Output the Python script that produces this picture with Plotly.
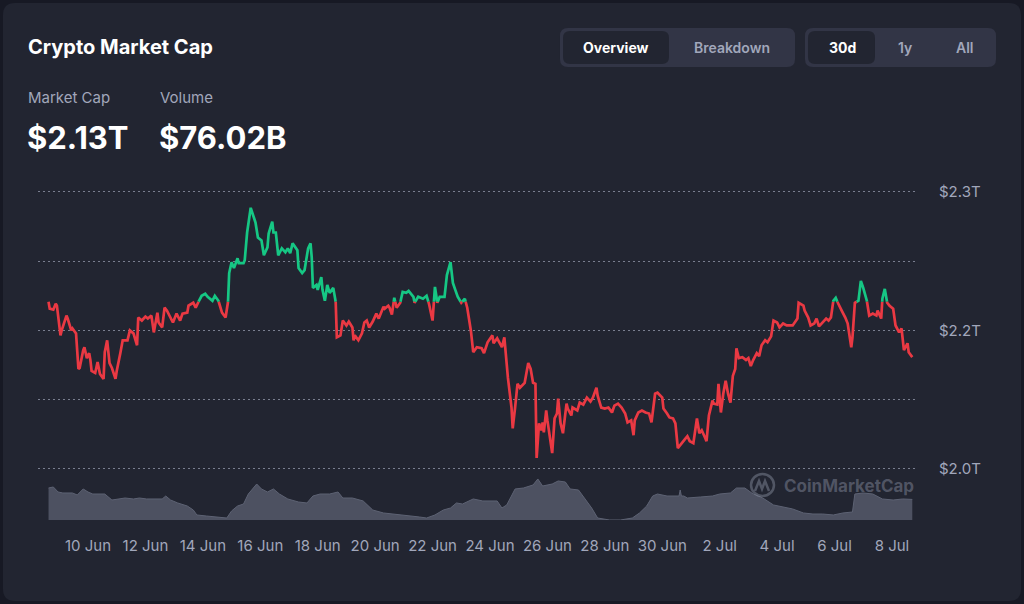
import plotly.graph_objects as go
import pandas as pd

# ---------------- data ----------------
# hours since 10 Jun 00:00, total crypto market cap in trillions USD
hours = [-33, -32, -29, -27, -26, -23, -22, -18, -17, -14, -13, -10, -8, -7, -4, -3, -1, 1, 2, 3,
         6, 8, 10, 13, 14, 16, 18, 20, 23, 24, 27, 29, 33, 35, 38, 41, 42, 45, 48, 50,
         53, 55, 58, 59, 62, 64, 66, 69, 71, 74, 77, 79, 83, 84, 88, 90, 92, 95, 98, 100,
         104, 106, 109, 112, 115, 117, 118, 120, 122, 125, 126, 130, 131, 133, 136, 140, 142, 145, 147, 150,
         151, 154, 155, 157, 159, 162, 165, 167, 169, 171, 173, 175, 176, 179, 181, 184, 186, 187, 188, 191,
         192, 195, 196, 198, 200, 202, 205, 207, 208, 211, 213, 216, 218, 221, 222, 223, 226, 229, 231, 233,
         235, 238, 241, 243, 247, 248, 251, 252, 254, 256, 258, 261, 263, 266, 268, 272, 273, 276, 280, 283,
         285, 288, 290, 292, 294, 298, 300, 303, 305, 307, 309, 312, 315, 317, 320, 322, 325, 329, 331, 334,
         338, 339, 342, 344, 346, 348, 349, 351, 354, 355, 357, 359, 361, 364, 365, 368, 370, 372, 374, 375,
         377, 379, 380, 381, 383, 384, 388, 390, 392, 393, 395, 397, 400, 401, 404, 405, 409, 411, 414, 417,
         420, 422, 425, 426, 429, 432, 435, 438, 440, 443, 446, 449, 451, 454, 456, 457, 460, 463, 466, 469,
         471, 474, 476, 480, 481, 484, 486, 489, 491, 493, 496, 499, 501, 503, 506, 509, 511, 513, 516, 517,
         519, 522, 523, 526, 527, 529, 531, 533, 535, 537, 539, 541, 542, 544, 547, 550, 552, 554, 556, 559,
         561, 563, 566, 568, 571, 573, 576, 578, 581, 584, 587, 589, 593, 594, 598, 599, 602, 604, 607, 609,
         611, 614, 617, 619, 621, 623, 625, 627, 630, 633, 635, 638, 639, 641, 644, 646, 648, 651, 653, 656,
         659, 660, 663, 664, 666, 668, 670, 673, 675, 678, 680, 682, 685, 686, 689]
mcap = [2.199, 2.192, 2.191, 2.197, 2.195, 2.165, 2.170, 2.185, 2.182, 2.170, 2.172, 2.167, 2.131, 2.132, 2.150, 2.153, 2.142, 2.147, 2.140, 2.129,
        2.127, 2.138, 2.126, 2.121, 2.148, 2.160, 2.137, 2.132, 2.121, 2.129, 2.147, 2.160, 2.160, 2.170, 2.167, 2.155, 2.183, 2.180, 2.184, 2.182,
        2.185, 2.168, 2.188, 2.178, 2.173, 2.193, 2.190, 2.182, 2.178, 2.187, 2.180, 2.187, 2.188, 2.195, 2.198, 2.193, 2.198, 2.205, 2.207, 2.204,
        2.200, 2.205, 2.200, 2.188, 2.183, 2.198, 2.228, 2.239, 2.233, 2.243, 2.238, 2.238, 2.241, 2.269, 2.294, 2.279, 2.264, 2.261, 2.246, 2.254,
        2.268, 2.280, 2.269, 2.269, 2.246, 2.253, 2.249, 2.253, 2.248, 2.258, 2.254, 2.251, 2.233, 2.228, 2.231, 2.253, 2.258, 2.244, 2.213, 2.216,
        2.211, 2.224, 2.211, 2.200, 2.216, 2.208, 2.213, 2.200, 2.163, 2.165, 2.180, 2.175, 2.179, 2.173, 2.160, 2.165, 2.160, 2.167, 2.178, 2.180,
        2.173, 2.179, 2.187, 2.182, 2.194, 2.192, 2.195, 2.193, 2.186, 2.203, 2.193, 2.198, 2.209, 2.208, 2.210, 2.204, 2.198, 2.204, 2.202, 2.205,
        2.197, 2.180, 2.214, 2.198, 2.204, 2.204, 2.226, 2.239, 2.218, 2.211, 2.204, 2.198, 2.202, 2.193, 2.170, 2.148, 2.153, 2.152, 2.147, 2.158,
        2.165, 2.157, 2.162, 2.157, 2.153, 2.163, 2.150, 2.122, 2.092, 2.071, 2.092, 2.116, 2.112, 2.116, 2.117, 2.137, 2.131, 2.117, 2.116, 2.041,
        2.076, 2.069, 2.077, 2.067, 2.089, 2.079, 2.046, 2.081, 2.086, 2.101, 2.076, 2.066, 2.096, 2.091, 2.084, 2.092, 2.089, 2.097, 2.095, 2.102,
        2.098, 2.102, 2.112, 2.104, 2.092, 2.091, 2.092, 2.087, 2.094, 2.096, 2.092, 2.086, 2.077, 2.079, 2.064, 2.079, 2.087, 2.089, 2.087, 2.086,
        2.077, 2.106, 2.107, 2.102, 2.091, 2.086, 2.082, 2.081, 2.076, 2.051, 2.056, 2.060, 2.063, 2.058, 2.056, 2.081, 2.066, 2.069, 2.061, 2.058,
        2.084, 2.099, 2.096, 2.095, 2.116, 2.087, 2.106, 2.119, 2.106, 2.097, 2.124, 2.131, 2.152, 2.142, 2.143, 2.140, 2.142, 2.134, 2.140, 2.147,
        2.144, 2.155, 2.160, 2.158, 2.164, 2.180, 2.178, 2.173, 2.177, 2.175, 2.175, 2.175, 2.182, 2.198, 2.195, 2.190, 2.183, 2.175, 2.177, 2.182,
        2.174, 2.178, 2.182, 2.180, 2.183, 2.200, 2.203, 2.197, 2.190, 2.183, 2.177, 2.153, 2.163, 2.198, 2.200, 2.220, 2.213, 2.200, 2.185, 2.187,
        2.185, 2.190, 2.182, 2.202, 2.212, 2.198, 2.195, 2.192, 2.175, 2.168, 2.172, 2.150, 2.157, 2.148, 2.143]

# volume in billions USD
vol_hours = [-33, -29, -25, -21, -13, -9, -4, 0, 4, 10, 14, 20, 25, 31, 38, 43, 49, 56, 62, 65,
             69, 75, 83, 88, 91, 99, 108, 116, 120, 125, 130, 134, 141, 145, 150, 155, 160, 167, 176, 183,
             188, 194, 202, 209, 213, 221, 230, 238, 247, 255, 267, 277, 283, 290, 297, 303, 308, 313, 322, 330,
             342, 346, 350, 357, 364, 372, 376, 380, 388, 393, 399, 403, 410, 415, 421, 426, 436, 445, 455, 461,
             467, 472, 476, 484, 491, 494, 495, 496, 498, 501, 512, 522, 528, 537, 542, 549, 556, 564, 573, 581,
             589, 598, 606, 614, 623, 631, 639, 641, 648, 656, 664, 673, 681, 689]
volume = [96.0, 97.8, 89.0, 87.3, 87.3, 83.8, 94.3, 89.0, 85.5, 85.5, 85.5, 75.0, 76.8, 78.5, 76.8, 78.5, 76.8, 76.8, 76.8, 82.0,
          75.0, 69.8, 64.5, 57.5, 48.8, 47.0, 45.3, 43.5, 55.8, 64.5, 68.0, 85.5, 103.0, 94.3, 89.0, 94.3, 85.5, 76.8, 71.5, 69.8,
          82.0, 85.5, 85.5, 89.0, 78.5, 78.5, 73.3, 57.5, 52.3, 50.5, 48.8, 45.3, 43.5, 48.8, 57.5, 61.0, 69.8, 68.0, 76.8, 73.3,
          73.3, 61.0, 66.3, 94.3, 96.0, 101.3, 111.8, 99.5, 103.0, 108.3, 106.5, 94.3, 92.5, 78.5, 61.0, 43.5, 40.0, 40.0, 43.5, 52.3,
          64.5, 82.0, 85.5, 82.0, 82.0, 82.0, 92.5, 82.0, 82.0, 78.5, 80.3, 82.0, 85.5, 87.3, 96.0, 96.0, 85.5, 78.5, 66.3, 62.8,
          59.3, 52.3, 50.5, 50.5, 48.8, 52.3, 54.0, 85.5, 87.3, 85.5, 76.8, 75.0, 76.8, 76.0]

y_tick_vals = [2.03, 2.10, 2.17, 2.24, 2.31]
y_tick_text = ["$2.0T", "", "$2.2T", "", "$2.3T"]
x_tick_days = list(range(0, 30, 2))

# ---------------- layout helpers ----------------
W, H = 1024, 604
L, R, T, B = 38, 108, 180, 84
PW, PH = W - L - R, H - T - B


def px(x):
    return (x - L) / PW


def py(y):
    return (H - B - y) / PH


def rrect(x0, y0, x1, y1, r):
    pts = [
        ("M", [(x0 + r, y0)]), ("L", [(x1 - r, y0)]), ("Q", [(x1, y0), (x1, y0 + r)]),
        ("L", [(x1, y1 - r)]), ("Q", [(x1, y1), (x1 - r, y1)]), ("L", [(x0 + r, y1)]),
        ("Q", [(x0, y1), (x0, y1 - r)]), ("L", [(x0, y0 + r)]), ("Q", [(x0, y0), (x0 + r, y0)]),
    ]
    s = ""
    for cmd, ps in pts:
        s += cmd + " " + " ".join(f"{px(a):.5f},{py(b):.5f}" for a, b in ps) + " "
    return s + "Z"


base = pd.Timestamp("2024-06-10")


def to_dt(h):
    return base + pd.Timedelta(hours=h)


RED = "#ea3943"
GREEN = "#16c784"

# split line into runs above / below the opening value
thr = mcap[0]
runs = []
cur_up = mcap[1] > thr
cur = [(hours[0], mcap[0])]
for i in range(1, len(hours)):
    h0, v0 = hours[i - 1], mcap[i - 1]
    h1, v1 = hours[i], mcap[i]
    up1 = v1 > thr
    if up1 != cur_up and v1 != v0:
        t = (thr - v0) / (v1 - v0)
        t = min(max(t, 0.0), 1.0)
        hc = h0 + t * (h1 - h0)
        cur.append((hc, thr))
        runs.append((cur_up, cur))
        cur = [(hc, thr)]
        cur_up = up1
    cur.append((h1, v1))
runs.append((cur_up, cur))

fig = go.Figure()

# volume area
fig.add_trace(go.Scatter(
    x=[to_dt(h) for h in vol_hours], y=volume, mode="lines", fill="tozeroy",
    line=dict(width=1, color="#5d6273"), fillcolor="#4d5161", yaxis="y2",
    hoverinfo="skip", showlegend=False,
))

for up, pts in runs:
    if len(pts) < 2:
        continue
    fig.add_trace(go.Scatter(
        x=[to_dt(p[0]) for p in pts], y=[p[1] for p in pts], mode="lines",
        line=dict(color=GREEN if up else RED, width=2.7), hoverinfo="skip", showlegend=False,
    ))

FONT = "Inter"
GRAY = "#a1a7bb"

shapes = [
    dict(type="path", path=rrect(3, 3, 1021, 601, 12), xref="paper", yref="paper",
         fillcolor="#222531", line=dict(width=0), layer="below"),
    dict(type="path", path=rrect(560, 28, 795, 67, 8), xref="paper", yref="paper",
         fillcolor="#323546", line=dict(width=0), layer="below"),
    dict(type="path", path=rrect(563, 31, 669, 64, 7), xref="paper", yref="paper",
         fillcolor="#222531", line=dict(width=0), layer="below"),
    dict(type="path", path=rrect(805, 28, 996, 67, 8), xref="paper", yref="paper",
         fillcolor="#323546", line=dict(width=0), layer="below"),
    dict(type="path", path=rrect(808, 31, 875, 64, 7), xref="paper", yref="paper",
         fillcolor="#222531", line=dict(width=0), layer="below"),
    # watermark logo
    dict(type="circle", xref="paper", yref="paper", x0=px(751), x1=px(774), y0=py(496), y1=py(474),
         line=dict(color="rgba(140,146,165,0.45)", width=2.5), layer="above"),
    dict(type="path", xref="paper", yref="paper",
         path=f"M {px(755)},{py(491)} L {px(759)},{py(481)} L {px(762)},{py(489)} L {px(765)},{py(481)} L {px(769)},{py(491)}",
         line=dict(color="rgba(140,146,165,0.45)", width=2.5), layer="above"),
]

annotations = []


def txt(s, x, y, size, color, weight=400, xanchor="left"):
    annotations.append(dict(text=s, x=px(x), y=py(y), xref="paper", yref="paper",
                            xanchor=xanchor, yanchor="middle", showarrow=False,
                            font=dict(family=FONT, size=size, color=color, weight=weight)))


txt("Crypto Market Cap", 26, 47, 20, "#ffffff", 700)
txt("Market Cap", 26, 98, 15, GRAY)
txt("Volume", 158, 98, 15, GRAY)
txt("$2.13T", 25, 137, 31, "#ffffff", 700)
txt("$76.02B", 157, 137, 31, "#ffffff", 700)
txt("Overview", 616, 47, 14, "#ffffff", 700, "center")
txt("Breakdown", 732, 47, 14, GRAY, 600, "center")
txt("30d", 842, 47, 14, "#ffffff", 700, "center")
txt("1y", 905, 47, 14, GRAY, 600, "center")
txt("All", 965, 47, 14, GRAY, 600, "center")
txt("CoinMarketCap", 782, 486, 17, "rgba(140,146,165,0.45)", 700)

fig.update_layout(
    width=W, height=H,
    margin=dict(l=L, r=R, t=T, b=B),
    paper_bgcolor="#171924", plot_bgcolor="rgba(0,0,0,0)",
    showlegend=False, hovermode=False,
    shapes=shapes, annotations=annotations,
    xaxis=dict(
        type="date", range=[to_dt(-41.8), to_dt(692.1)],
        tickmode="array",
        tickvals=[base + pd.Timedelta(days=d) for d in x_tick_days],
        ticktext=[(base + pd.Timedelta(days=d)).strftime("%-d %b") for d in x_tick_days],
        showgrid=False, zeroline=False, showline=False, ticks="",
        tickfont=dict(family=FONT, size=15, color=GRAY), ticklabelstandoff=15,
    ),
    yaxis=dict(
        range=[1.9783, 2.3221], side="right", tickmode="array",
        tickvals=y_tick_vals, ticktext=y_tick_text,
        showgrid=True, gridcolor="#7a7f90", griddash="2px,3px", gridwidth=1,
        zeroline=False, showline=False, ticks="",
        tickfont=dict(family=FONT, size=15, color=GRAY), ticklabelstandoff=22,
    ),
    yaxis2=dict(domain=[0, 0.15], range=[40, 129.25], visible=False, anchor="x"),
)

fig.write_html("out.html")
